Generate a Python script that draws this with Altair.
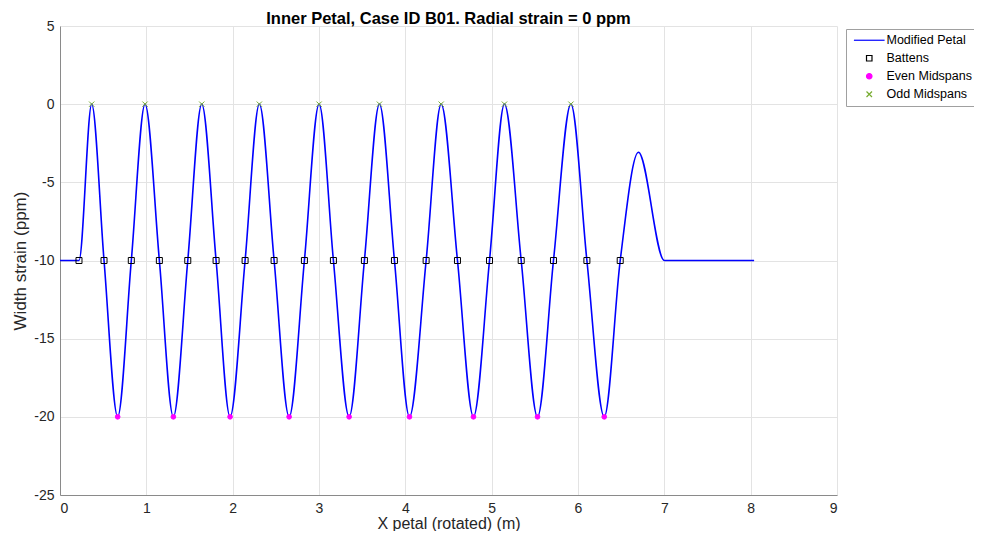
import altair as alt
import pandas as pd

# ---- data ----
series_names = ["Modified Petal", "Battens", "Even Midspans", "Odd Midspans"]
series_colors = ["#0000ff", "#000000", "#ff00ff", "#77ac30"]
series_fills = ["transparent", "transparent", "#ff00ff", "transparent"]
series_shapes = ["M-5.6,0H5.6", "square", "circle", "M-1,-1L1,1M-1,1L1,-1"]

battens_x = [0.220, 0.510, 0.826, 1.151, 1.480, 1.808, 2.144, 2.480, 2.831, 3.167,
             3.526, 3.874, 4.241, 4.604, 4.975, 5.342, 5.716, 6.103, 6.489]
battens_y = [-10] * len(battens_x)
odd_x = [0.367, 0.985, 1.642, 2.309, 3.001, 3.700, 4.415, 5.148, 5.918]
odd_y = [0] * len(odd_x)
even_x = [0.668, 1.313, 1.970, 2.654, 3.349, 4.048, 4.789, 5.531, 6.304]
even_y = [-20] * len(even_x)
# petal curve outside the battened part
lead_x = [0.0]
lead_y = [-10]
tail_x = [6.70, 7.00, 8.04]
tail_y = [-3.08, -10, -10]

x_ticks = [0, 1, 2, 3, 4, 5, 6, 7, 8, 9]
y_ticks = [-25, -20, -15, -10, -5, 0, 5]

title_text = "Inner Petal, Case ID B01. Radial strain = 0 ppm"
x_title = "X petal (rotated) (m)"
y_title = "Width strain (ppm)"

# ---- tables ----
curve = pd.DataFrame({
    "x": lead_x + battens_x + odd_x + even_x + tail_x,
    "y": lead_y + battens_y + odd_y + even_y + tail_y,
}).sort_values("x")
curve["series"] = "Modified Petal"
bat = pd.DataFrame({"x": battens_x, "y": battens_y, "series": "Battens"})
evn = pd.DataFrame({"x": even_x, "y": even_y, "series": "Even Midspans"})
odd = pd.DataFrame({"x": odd_x, "y": odd_y, "series": "Odd Midspans"})

FONT = "Liberation Sans"

xenc = alt.X("x:Q", scale=alt.Scale(domain=[0, 9], nice=False),
             axis=alt.Axis(values=x_ticks, title=x_title, labelPadding=6,
                           titlePadding=0, titleFontSize=16, format="d"))
yenc = alt.Y("y:Q", scale=alt.Scale(domain=[-25, 5], nice=False),
             axis=alt.Axis(values=y_ticks, title=y_title, labelPadding=6,
                           titlePadding=4, titleFontSize=17,
                           labelExpr="'' + datum.value"))

legend = alt.Legend(title=None, orient="none", legendX=786, legendY=3, padding=5,
                    strokeColor="#a0a0a0", fillColor="white",
                    symbolSize=30, symbolStrokeWidth=1.2, symbolOffset=12,
                    labelOffset=11, labelFontSize=12.5, labelFont=FONT,
                    labelColor="#000000", rowPadding=5)

color = alt.Color("series:N", scale=alt.Scale(domain=series_names, range=series_colors),
                  legend=legend)
shape = alt.Shape("series:N", scale=alt.Scale(domain=series_names, range=series_shapes),
                  legend=legend)
fill = alt.Fill("series:N", scale=alt.Scale(domain=series_names, range=series_fills),
                legend=legend)

line = alt.Chart(curve).mark_line(interpolate="monotone", strokeWidth=1.6).encode(
    x=xenc, y=yenc, color=color)

def pts(df, size, sw):
    return alt.Chart(df).mark_point(filled=False, size=size, opacity=1,
                                    strokeWidth=sw).encode(
        x=xenc, y=yenc, color=color, shape=shape, fill=fill)

chart = alt.layer(
    line,
    pts(bat, 36, 1.0),
    pts(evn, 22, 1.0),
    pts(odd, 28, 1.0),
).properties(
    width=777, height=469,
    autosize=alt.AutoSizeParams(type="none"),
    padding={"left": 52, "top": 18, "right": 137, "bottom": 36},
    title=alt.TitleParams(title_text, fontSize=16.5, fontWeight="bold", font=FONT,
                          anchor="middle", offset=0, dy=8, color="#000000"),
).configure_view(stroke=None).configure_axis(
    labelFont=FONT, titleFont=FONT, labelFontSize=14,
    labelColor="#262626", titleColor="#262626", titleFontWeight="normal",
    gridColor="#e3e3e3", gridWidth=1, domainColor="#8a8a8a", domainWidth=1,
    ticks=False,
)

chart.save("out.html", embed_options={"renderer": "svg", "actions": False})
